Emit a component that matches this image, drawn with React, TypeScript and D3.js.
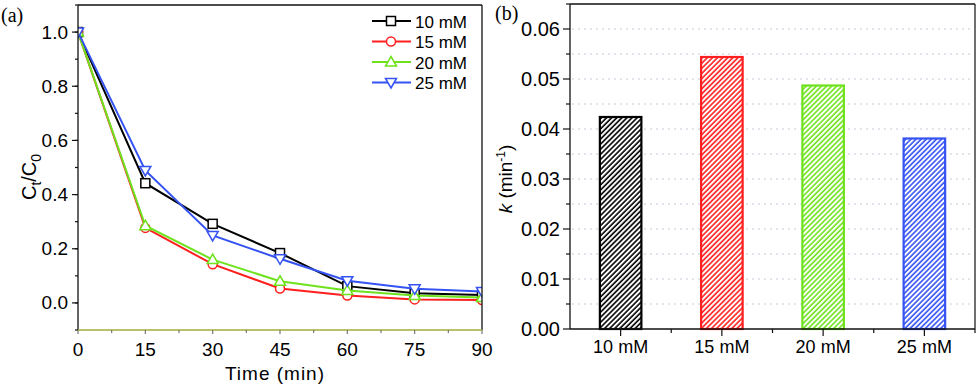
import React from "react";
import * as d3 from "d3";

// left panel: Ct/C0 vs time
const times = [0, 15, 30, 45, 60, 75, 90];
const c10 = [1.0, 0.442, 0.292, 0.184, 0.062, 0.036, 0.029];
const c15 = [1.0, 0.277, 0.143, 0.053, 0.027, 0.013, 0.011];
const c20 = [1.0, 0.285, 0.16, 0.08, 0.046, 0.027, 0.02];
const c25 = [1.0, 0.489, 0.249, 0.163, 0.082, 0.052, 0.042];
const seriesNames = ["10 mM", "15 mM", "20 mM", "25 mM"];

// right panel: rate constants
const concLabels = ["10 mM", "15 mM", "20 mM", "25 mM"];
const kValues = [0.0424, 0.0544, 0.0487, 0.0381];

const colors = ["#000000", "#ff1f1f", "#6ee21c", "#3552f2"];
const markers = ["square", "circle", "triangle", "triangleDown"];
const font = "Arial, 'Liberation Sans', sans-serif";

function Marker({ type, x, y, color }: { type: string; x: number; y: number; color: string }) {
  if (type === "square")
    return <rect x={x - 4.5} y={y - 4.5} width={9} height={9} fill="white" stroke={color} strokeWidth={1.5} />;
  if (type === "circle") return <circle cx={x} cy={y} r={4.5} fill="white" stroke={color} strokeWidth={1.5} />;
  if (type === "triangle")
    return <path d={`M${x},${y - 5.5}L${x + 5.5},${y + 4}L${x - 5.5},${y + 4}Z`} fill="white" stroke={color} strokeWidth={1.5} />;
  return <path d={`M${x},${y + 5.5}L${x + 5.5},${y - 4}L${x - 5.5},${y - 4}Z`} fill="white" stroke={color} strokeWidth={1.5} />;
}

export default function App() {
  const W = 978;
  const H = 384;

  // left scales
  const x = d3.scaleLinear().domain([0, 90]).range([78, 482]);
  const y = d3.scaleLinear().domain([-0.1, 1.1]).range([330, 5]);
  const data = [c10, c15, c20, c25];
  const line = d3
    .line<number>()
    .x((d, i) => x(times[i]))
    .y((d) => y(d));

  // right scales
  const xb = d3.scaleBand().domain(concLabels).range([570, 975]).paddingInner(0.59).paddingOuter(0.295);
  const yk = d3.scaleLinear().domain([0, 0.065]).range([329, 4]);
  const step = xb.step();

  const yMajor = d3.range(0, 1.01, 0.2);
  const yMinor = d3.range(-0.1, 1.11, 0.1);
  const xMinor = d3.range(7.5, 90, 15);
  const kMajor = d3.range(0, 0.0601, 0.01);
  const kMinor = d3.range(0.005, 0.0651, 0.01);
  const kGrid = d3.range(0.005, 0.0601, 0.005);

  return (
    <svg width={W} height={H} style={{ position: "absolute", left: 0, top: 0, background: "white" }}>
      <defs>
        {colors.map((c, i) => (
          <pattern key={i} id={`hatch${i}`} patternUnits="userSpaceOnUse" width={3.6} height={3.6} patternTransform="rotate(45)">
            <rect width={3.6} height={3.6} fill="white" />
            <line x1={1} y1={0} x2={1} y2={3.6} stroke={c} strokeWidth={1.6} />
          </pattern>
        ))}
        <clipPath id="clipA">
          <rect x={78} y={5} width={404} height={325} />
        </clipPath>
      </defs>

      {/* ---------- panel (a) ---------- */}
      <text x={1} y={22} fontFamily="'Liberation Serif', serif" fontSize={20}>(a)</text>
      <g clipPath="url(#clipA)">
        {data.map((s, i) => (
          <g key={i}>
            <path d={line(s) || ""} fill="none" stroke={colors[i]} strokeWidth={2} />
            {s.map((v, j) => (
              <Marker key={j} type={markers[i]} x={x(times[j])} y={y(v)} color={colors[i]} />
            ))}
          </g>
        ))}
      </g>
      {/* frame */}
      <line x1={78} y1={5} x2={482} y2={5} stroke="#111" strokeWidth={1.3} />
      <line x1={482} y1={5} x2={482} y2={330} stroke="#111" strokeWidth={1.3} />
      <line x1={78} y1={5} x2={78} y2={330} stroke="#111" strokeWidth={1.3} />
      <line x1={78} y1={330} x2={482} y2={330} stroke="#a4ab3a" strokeWidth={1.3} />
      {yMinor.map((v) => (
        <line key={v} x1={75} x2={78} y1={y(v)} y2={y(v)} stroke="#111" strokeWidth={1.2} />
      ))}
      {yMajor.map((v) => (
        <g key={v}>
          <line x1={72} x2={78} y1={y(v)} y2={y(v)} stroke="#111" strokeWidth={1.2} />
          <text x={68} y={y(v) + 6.5} textAnchor="end" fontFamily={font} fontSize={19}>{d3.format(".1f")(v)}</text>
        </g>
      ))}
      {times.map((t) => (
        <g key={t}>
          <line x1={x(t)} x2={x(t)} y1={330} y2={334} stroke="#777" strokeWidth={1.2} />
          <text x={x(t)} y={356} textAnchor="middle" fontFamily={font} fontSize={19}>{t}</text>
        </g>
      ))}
      {xMinor.map((t) => (
        <line key={t} x1={x(t)} x2={x(t)} y1={330} y2={333} stroke="#777" strokeWidth={1.2} />
      ))}
      <text x={275} y={380} textAnchor="middle" fontFamily={font} fontSize={19} letterSpacing={1}>Time (min)</text>
      <text transform="translate(36,177) rotate(-90)" textAnchor="middle" fontFamily={font} fontSize={20}>
        C<tspan fontSize={14} dy={5}>t</tspan>
        <tspan dy={-5}>/C</tspan>
        <tspan fontSize={14} dy={5}>0</tspan>
      </text>
      {/* legend */}
      {seriesNames.map((n, i) => {
        const ly = 21 + i * 20.5;
        return (
          <g key={n}>
            <line x1={372} x2={411} y1={ly} y2={ly} stroke={colors[i]} strokeWidth={2} />
            <Marker type={markers[i]} x={391} y={ly} color={colors[i]} />
            <text x={415} y={ly + 6.5} fontFamily={font} fontSize={17}>{n}</text>
          </g>
        );
      })}

      {/* ---------- panel (b) ---------- */}
      {kGrid.map((v) => (
        <line key={v} x1={572} x2={973} y1={yk(v)} y2={yk(v)} stroke="#c3cad9" strokeWidth={1} strokeDasharray="2,4" />
      ))}
      {kValues.map((v, i) => (
        <rect
          key={i}
          x={xb(concLabels[i])}
          y={yk(v)}
          width={xb.bandwidth()}
          height={yk(0) - yk(v)}
          fill={`url(#hatch${i})`}
          stroke={colors[i]}
          strokeWidth={2.2}
        />
      ))}
      <text x={495} y={20} fontFamily="'Liberation Serif', serif" fontSize={20}>(b)</text>
      <line x1={570} y1={4} x2={975} y2={4} stroke="#111" strokeWidth={1.3} />
      <line x1={975} y1={4} x2={975} y2={329} stroke="#222" strokeWidth={1.3} />
      <line x1={570} y1={4} x2={570} y2={329} stroke="#111" strokeWidth={1.3} />
      <line x1={570} y1={329} x2={975} y2={329} stroke="#111" strokeWidth={1.3} />
      {kMajor.map((v) => (
        <g key={v}>
          <line x1={563} x2={570} y1={yk(v)} y2={yk(v)} stroke="#111" strokeWidth={1.2} />
          <text x={560} y={yk(v) + 7} textAnchor="end" fontFamily={font} fontSize={20}>{d3.format(".2f")(v)}</text>
        </g>
      ))}
      {kMinor.map((v) => (
        <line key={v} x1={566} x2={570} y1={yk(v)} y2={yk(v)} stroke="#111" strokeWidth={1.2} />
      ))}
      {concLabels.map((c, i) => {
        const cx = (xb(c) || 0) + xb.bandwidth() / 2;
        return (
          <g key={c}>
            <line x1={cx} x2={cx} y1={329} y2={336} stroke="#111" strokeWidth={1.2} />
            <line x1={cx + step / 2} x2={cx + step / 2} y1={329} y2={333} stroke="#111" strokeWidth={1.2} />
            <text x={cx} y={353} textAnchor="middle" fontFamily={font} fontSize={18}>{c}</text>
          </g>
        );
      })}
      <text transform="translate(512,179) rotate(-90)" textAnchor="middle" fontFamily={font} fontSize={19}>
        <tspan fontStyle="italic">k</tspan> (min
        <tspan fontSize={12} dy={-7}>-1</tspan>
        <tspan dy={7}>)</tspan>
      </text>
    </svg>
  );
}
